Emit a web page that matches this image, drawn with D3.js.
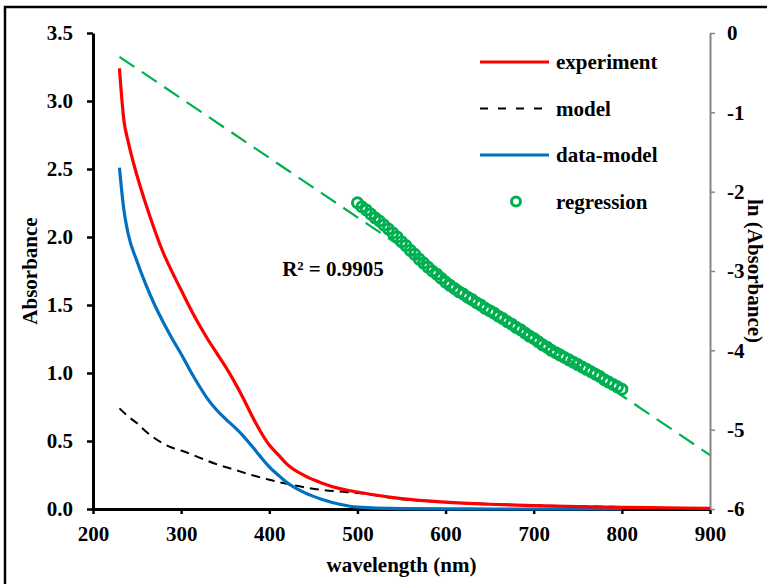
<!DOCTYPE html>
<html>
<head>
<meta charset="utf-8">
<script src="https://cdn.jsdelivr.net/npm/d3@7"></script>
<style>
  body { margin: 0; background: #fff; }
  text { font-family: "Liberation Serif", "Times New Roman", serif; font-weight: bold; }
</style>
</head>
<body>
<div class="chart"></div>
<script>
// wavelength grid (nm) for the absorbance curves
var wlExp = [230, 235, 240, 250, 260, 270, 280, 290, 300, 310, 320, 330, 340, 350, 360, 370, 380, 390, 400, 410, 420, 440, 460, 480, 500, 550, 600, 650, 700, 750, 800, 850, 900];
var experiment = [3.24, 2.86, 2.70, 2.45, 2.24, 2.05, 1.88, 1.74, 1.61, 1.48, 1.36, 1.25, 1.15, 1.05, 0.94, 0.82, 0.69, 0.57, 0.47, 0.40, 0.33, 0.245, 0.19, 0.15, 0.125, 0.076, 0.05, 0.035, 0.025, 0.017, 0.012, 0.008, 0.005];

var wlModel = [230, 240, 250, 260, 270, 280, 290, 300, 320, 340, 360, 380, 400, 420, 440, 460, 480, 500, 550, 600, 650, 700, 750, 800];
var model = [0.74, 0.68, 0.63, 0.57, 0.52, 0.48, 0.45, 0.43, 0.38, 0.33, 0.29, 0.25, 0.215, 0.185, 0.16, 0.14, 0.128, 0.118, 0.072, 0.05, 0.036, 0.027, 0.02, 0.015];

var wlDiff = [230, 235, 240, 250, 260, 270, 280, 290, 300, 310, 320, 330, 340, 350, 360, 370, 380, 390, 400, 410, 420, 440, 460, 480, 500, 550, 600, 650, 700, 750, 800];
var dataModel = [2.51, 2.2, 2.02, 1.82, 1.65, 1.50, 1.37, 1.25, 1.14, 1.02, 0.91, 0.81, 0.73, 0.665, 0.605, 0.54, 0.465, 0.385, 0.31, 0.25, 0.195, 0.12, 0.07, 0.035, 0.014, 0.003, 0.001, 0.0, 0.0, 0.0, 0.0];

// ln(absorbance) points used in the regression, 500-800 nm
var wlReg = [500, 505, 510, 515, 520, 525, 530, 535, 540, 545, 550, 555, 560, 565, 570, 575, 580, 585, 590, 595,
    600, 605, 610, 615, 620, 625, 630, 635, 640, 645, 650, 655, 660, 665, 670, 675, 680, 685, 690, 695,
    700, 705, 710, 715, 720, 725, 730, 735, 740, 745, 750, 755, 760, 765, 770, 775, 780, 785, 790, 795, 800];
var lnAbs = [-2.14, -2.19, -2.23, -2.28, -2.33, -2.37, -2.42, -2.47, -2.52, -2.57, -2.63, -2.68, -2.74, -2.79, -2.85, -2.90, -2.95, -3.00, -3.04, -3.09,
    -3.14, -3.18, -3.22, -3.26, -3.29, -3.33, -3.36, -3.40, -3.43, -3.47, -3.50, -3.53, -3.57, -3.60, -3.64, -3.67, -3.71, -3.74, -3.78, -3.82,
    -3.85, -3.89, -3.93, -3.96, -4.00, -4.03, -4.06, -4.09, -4.12, -4.15, -4.18, -4.21, -4.24, -4.27, -4.30, -4.33, -4.37, -4.40, -4.43, -4.46, -4.49];

// fitted line end points (wavelength, ln A)
var fitWl = [230, 900];
var fitLn = [-0.30, -5.32];

var xTicks = [200, 300, 400, 500, 600, 700, 800, 900];
var yTicks = [0, 0.5, 1.0, 1.5, 2.0, 2.5, 3.0, 3.5];
var y2Ticks = [0, -1, -2, -3, -4, -5, -6];
var legendNames = ["experiment", "model", "data-model", "regression"];

var svg_width = 767, svg_height = 584;
var plotLeft = 93, plotRight = 710, plotTop = 33, plotBottom = 509;
var fontSize = 21;

var svg = d3.select(".chart")
    .append("svg")
    .attr("width", svg_width)
    .attr("height", svg_height);

// outer frame (runs off the right / bottom edge)
svg.append("rect")
    .attr("x", 5).attr("y", 7)
    .attr("width", 800).attr("height", 600)
    .attr("fill", "none")
    .attr("stroke", "#000")
    .attr("stroke-width", 2.5);

var x = d3.scaleLinear().domain([200, 900]).range([plotLeft, plotRight]);
var y = d3.scaleLinear().domain([0, 3.5]).range([plotBottom, plotTop]);
var y2 = d3.scaleLinear().domain([-6, 0]).range([plotBottom, plotTop]);

// axes
var xAxis = svg.append("g")
    .attr("transform", "translate(0," + plotBottom + ")")
    .call(d3.axisBottom(x).tickValues(xTicks).tickSize(5).tickPadding(12).tickSizeOuter(0));
xAxis.select(".domain").attr("stroke-width", 3);
xAxis.selectAll(".tick line").attr("stroke-width", 2.5);
xAxis.selectAll("text").attr("font-size", fontSize).attr("fill", "#000");

var yAxis = svg.append("g")
    .attr("transform", "translate(" + plotLeft + ",0)")
    .call(d3.axisLeft(y).tickValues(yTicks).tickFormat(d3.format(".1f")).tickSize(6).tickPadding(14).tickSizeOuter(0));
yAxis.select(".domain").attr("stroke-width", 3);
yAxis.selectAll(".tick line").attr("stroke-width", 2.5);
yAxis.selectAll("text").attr("font-size", fontSize).attr("fill", "#000");

var y2Axis = svg.append("g")
    .attr("transform", "translate(" + plotRight + ",0)")
    .call(d3.axisRight(y2).tickValues(y2Ticks).tickFormat(function (d) { return String(d); })
        .tickSize(5).tickPadding(12).tickSizeOuter(0));
y2Axis.select(".domain").attr("stroke", "#868686").attr("stroke-width", 2);
y2Axis.selectAll(".tick line").attr("stroke", "#868686").attr("stroke-width", 1.5);
y2Axis.selectAll("text").attr("font-size", fontSize).attr("fill", "#000");

// axis titles
svg.append("text")
    .attr("x", (plotLeft + plotRight) / 2).attr("y", 572)
    .attr("text-anchor", "middle").attr("font-size", fontSize)
    .text("wavelength (nm)");
svg.append("text")
    .attr("transform", "translate(37," + (plotTop + plotBottom) / 2 + ") rotate(-90)")
    .attr("text-anchor", "middle").attr("font-size", fontSize)
    .text("Absorbance");
svg.append("text")
    .attr("transform", "translate(748," + (plotTop + plotBottom) / 2 + ") rotate(90)")
    .attr("text-anchor", "middle").attr("font-size", fontSize)
    .text("ln (Absorbance)");

function pairs(xs, ys) {
    return xs.map(function (d, i) { return [d, ys[i]]; });
}

var line = d3.line()
    .x(function (d) { return x(d[0]); })
    .y(function (d) { return y(d[1]); })
    .curve(d3.curveMonotoneX);

var line2 = d3.line()
    .x(function (d) { return x(d[0]); })
    .y(function (d) { return y2(d[1]); });

svg.append("path")
    .datum(pairs(wlModel, model))
    .attr("d", line)
    .attr("fill", "none").attr("stroke", "#000")
    .attr("stroke-width", 2).attr("stroke-dasharray", "9,6");

svg.append("path")
    .datum(pairs(wlDiff, dataModel))
    .attr("d", line)
    .attr("fill", "none").attr("stroke", "#0070c0")
    .attr("stroke-width", 3.2);

svg.append("path")
    .datum(pairs(wlExp, experiment))
    .attr("d", line)
    .attr("fill", "none").attr("stroke", "#ff0000")
    .attr("stroke-width", 3.2);

svg.append("path")
    .datum(pairs(fitWl, fitLn))
    .attr("d", line2)
    .attr("fill", "none").attr("stroke", "#00b050")
    .attr("stroke-width", 2.2).attr("stroke-dasharray", "18,9");

svg.selectAll(".reg")
    .data(pairs(wlReg, lnAbs))
    .enter()
    .append("circle")
    .attr("class", "reg")
    .attr("cx", function (d) { return x(d[0]); })
    .attr("cy", function (d) { return y2(d[1]); })
    .attr("r", 5)
    .attr("fill", "none")
    .attr("stroke", "#00b050")
    .attr("stroke-width", 3);

svg.append("text")
    .attr("x", 333).attr("y", 276)
    .attr("text-anchor", "middle").attr("font-size", fontSize)
    .text("R² = 0.9905");

// legend
var legend = svg.append("g").attr("transform", "translate(480,62)");
var rowGap = 46.5;
legendNames.forEach(function (name, i) {
    var g = legend.append("g").attr("transform", "translate(0," + i * rowGap + ")");
    if (i === 0 || i === 2) {
        g.append("line").attr("x1", 0).attr("x2", 69).attr("y1", 0).attr("y2", 0)
            .attr("stroke", i === 0 ? "#ff0000" : "#0070c0").attr("stroke-width", 3.2);
    } else if (i === 1) {
        g.append("line").attr("x1", 0).attr("x2", 69).attr("y1", 0).attr("y2", 0)
            .attr("stroke", "#000").attr("stroke-width", 2).attr("stroke-dasharray", "8,10");
    } else {
        g.append("circle").attr("cx", 36).attr("cy", 0).attr("r", 4.5)
            .attr("fill", "none").attr("stroke", "#00b050").attr("stroke-width", 3);
    }
    g.append("text").attr("x", 76).attr("y", 7)
        .attr("font-size", fontSize)
        .text(name);
});
</script>
</body>
</html>
